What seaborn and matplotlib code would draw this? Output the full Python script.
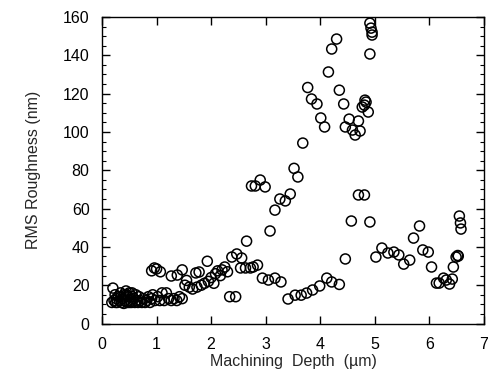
import matplotlib
matplotlib.use('Agg')
import matplotlib.pyplot as plt
import seaborn as sns
import pandas as pd
from matplotlib.ticker import MultipleLocator

# machining depth (um) and RMS roughness (nm)
depth = [
    0.20, 0.18, 0.22, 0.24, 0.26, 0.28, 0.30, 0.32, 0.34, 0.36, 0.38, 0.40,
    0.42, 0.44, 0.46, 0.48, 0.50, 0.52, 0.54, 0.56, 0.58, 0.60, 0.62, 0.64,
    0.66, 0.68, 0.70, 0.73, 0.76, 0.79, 0.82, 0.85, 0.88, 0.91, 0.93, 0.35,
    0.45, 0.55, 0.25, 0.40, 0.50,
    0.97, 1.02, 1.06, 1.10, 1.14, 1.18, 1.22, 1.27, 1.32, 1.37, 1.42, 1.47,
    0.91, 0.96, 1.00, 1.07, 1.27, 1.38, 1.47,
    1.52, 1.55, 1.60, 1.66, 1.72, 1.78, 1.74, 1.82, 1.88, 1.93,
    1.95, 2.00, 2.05, 2.08, 2.12, 2.17, 2.20, 2.25, 2.30,
    2.38, 2.47, 2.56, 2.34, 2.45, 2.65,
    2.54, 2.63, 2.72, 2.77, 2.85,
    2.74, 2.81, 2.90, 2.99,
    2.94, 3.05, 3.17, 3.28, 3.08, 3.17,
    3.26, 3.36, 3.45, 3.52, 3.59,
    3.41, 3.54, 3.65, 3.75, 3.86, 3.99,
    4.12, 4.21, 4.35, 4.46, 4.57, 4.70, 4.81, 4.91, 5.02,
    5.13, 5.24, 5.35, 5.44, 5.53, 5.64, 5.71, 5.82, 5.88, 5.98, 6.04,
    6.13, 6.18, 6.26, 6.31, 6.37, 6.42, 6.44, 6.49, 6.53, 6.52,
    6.55, 6.57, 6.58,
    3.68, 3.77, 3.84, 3.94, 4.01, 4.08, 4.15, 4.21, 4.30, 4.35, 4.43,
    4.53, 4.46, 4.59, 4.64, 4.70, 4.73,
    4.82, 4.84, 4.81, 4.77, 4.88,
    4.91, 4.93, 4.95, 4.95, 4.91,
]
rms = [
    18.5, 11, 12, 15, 13, 11, 14, 12, 16, 11, 13, 15,
    12, 17, 11, 14, 16, 12, 11, 14, 13, 11, 15, 12,
    11, 14, 12, 11, 13, 11, 12, 14, 11, 13, 15, 14,
    15, 16, 11, 10.5, 11,
    12, 14, 12, 16, 12, 16, 13, 12, 13, 12, 14, 13,
    27.5, 29, 28.5, 27, 24.8, 25.3, 28,
    20, 22.5, 19, 18, 26.4, 26.9, 19, 20, 21, 32.5,
    22, 24, 21, 26, 27.5, 25, 28, 29.5, 27,
    34.7, 36.3, 34.2, 14, 14, 43,
    29, 29, 29, 29.5, 30.5,
    71.8, 71.8, 74.9, 71.3,
    23.7, 22.7, 23.7, 21.7, 48.3, 59.2,
    65, 64, 67.6, 81, 76.5,
    12.8, 14.8, 14.8, 15.9, 17.5, 19.6,
    23.7, 21.7, 20.4, 33.7, 53.5, 67.1, 67.1, 53, 34.7,
    39.4, 36.8, 37.3, 35.8, 31, 33.1, 44.6, 50.9, 38.4, 37.3, 29.5,
    21.1, 21.1, 23.7, 22.7, 20.6, 23.2, 29.5, 34.7, 35.2, 35.5,
    56.1, 52.5, 49.3,
    94.2, 123.2, 117.2, 114.6, 107.3, 102.6, 131.3, 143.3, 148.5, 121.8, 114.6,
    106.7, 102.6, 101, 98.4, 105.7, 100.5,
    116.6, 115.6, 114, 113, 110.4,
    156.8, 154.2, 152.1, 150.6, 140.7,
]

df = pd.DataFrame({'depth': depth, 'rms': rms})

sns.set_style('ticks')
plt.rcParams['font.family'] = ['Liberation Sans', 'DejaVu Sans']

fig = plt.figure(figsize=(4.89, 3.85), dpi=100)
ax = fig.add_axes([0.2086, 0.1597, 0.7810, 0.7961])

sns.scatterplot(data=df, x='depth', y='rms', ax=ax, marker='o', s=52,
                facecolors='none', edgecolor='black', linewidth=1.1)

ax.set_xlim(0, 7)
ax.set_ylim(0, 160)
ax.xaxis.set_major_locator(MultipleLocator(1))
ax.yaxis.set_major_locator(MultipleLocator(20))
ax.yaxis.set_minor_locator(MultipleLocator(5))
ax.tick_params(which='both', direction='in', top=True, right=True,
               labelsize=11.5, colors='black')
ax.tick_params(which='major', length=6, width=1)
ax.tick_params(which='minor', length=3, width=0.8)
ax.tick_params(axis='y', pad=9)
ax.tick_params(axis='x', pad=10)
for sp in ax.spines.values():
    sp.set_linewidth(1.0)
    sp.set_color('black')

ax.set_xlabel('Machining  Depth  (\u00b5m)', fontsize=11.5, labelpad=1)
ax.set_ylabel('RMS Roughness (nm)', fontsize=11.5, labelpad=16)

fig.savefig('out.png', dpi=100)
